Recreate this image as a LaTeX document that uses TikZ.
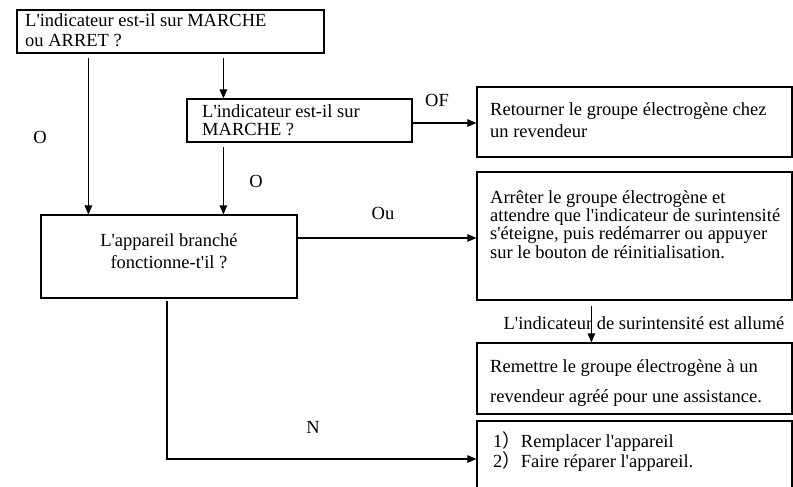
\documentclass[tikz,border=0pt]{standalone}
\usepackage{fontspec}
\setmainfont{Liberation Serif}[Ligatures=TeXOff]
\newfontfamily\cjk{Noto Sans CJK SC}
\usetikzlibrary{arrows.meta}

\begin{document}
\begin{tikzpicture}[x=1pt,y=-1pt,
    box/.style={draw,line width=1.2pt,inner sep=0pt},
    txt/.style={anchor=west,align=left,inner sep=0pt,font=\fontsize{18.5}{#1}\selectfont},
    lbl/.style={inner sep=0pt,font=\fontsize{18.5}{20}\selectfont},
    arr/.style={line width=1.1pt,-{Triangle[length=9pt,width=7.5pt]}}]
                \path[use as bounding box](0,0)rectangle(793,487);
                \clip(0,0)rectangle(793,487);
                % boxes
                \node[box,minimum width=307pt,minimum height=43pt](q1)at(170.5,31.5){};
                \node[box,minimum width=225pt,minimum height=43pt](q2)at(299.5,120.5){};
                \node[box,minimum width=256pt,minimum height=83pt](app)at(169,256.5){};
                \node[box,minimum width=315pt,minimum height=70pt](ret)at(634.5,122){};
                \node[box,minimum width=315pt,minimum height=128pt](stop)at(634.5,236){};
                \node[box,minimum width=315pt,minimum height=71pt](rev)at(634.5,378.5){};
                \node[box,minimum width=315pt,minimum height=76pt](rep)at(634.5,459){};
                % texts
                \node[txt=20](q1t)at(25,30){L'indicateur est-il sur MARCHE\\ou ARRET ?};
                \node[txt=18](q2t)at(202,120){L'indicateur est-il sur\\MARCHE ?};
                \node[txt=22,anchor=center,align=center](appt)at(169,251){L'appareil branché\\fonctionne-t'il ?};
                \node[txt=22](rett)at(490,120){Retourner le groupe électrogène chez\\un revendeur};
                \node[txt=18.3](stopt)at(490,224.5){Arrêter le groupe électrogène et\\attendre que l'indicateur de surintensité\\s'éteigne, puis redémarrer ou appuyer\\sur le bouton de réinitialisation.};
                \node[txt=30](revt)at(490,383){Remettre le groupe électrogène à un\\revendeur agréé pour une assistance.};
                \node[txt=20](rept)at(493,452){1{\cjk ）}Remplacer l'appareil\\2{\cjk ）}Faire réparer l'appareil.};
                % labels
                \node[lbl](lo1)at(40,137){O};
                \node[lbl](lo2)at(256,181){O};
                \node[lbl](lof)at(437,100){OF};
                \node[lbl](lou)at(383,213){Ou};
                \node[lbl](ln)at(313,427){N};
                \node[lbl](lall)at(644,323){L'indicateur de surintensité est allumé};
                % arrows
                \draw[arr,shorten <=4pt]([xshift=72pt]q1.south west)--([xshift=48pt]app.north west);
                \draw[arr,shorten <=4pt]([xshift=207pt]q1.south west)--([xshift=37pt]q2.north west);
                \draw[arr,shorten <=4pt]([xshift=37pt]q2.south west)--([xshift=183pt]app.north west);
                \draw[arr]([yshift=-2.5pt]q2.east)--([yshift=-2.5pt]q2.east-|ret.west);
                \draw[arr]([yshift=18.5pt]app.east)--([yshift=18.5pt]app.east-|stop.west);
                \draw[arr,shorten <=5pt]([xshift=115pt]stop.south west)--([xshift=115pt]rev.north west);
                \draw[arr,shorten <=2pt]([xshift=-2pt]app.south)|-(rep.west);
            \end{tikzpicture}
\end{document}
